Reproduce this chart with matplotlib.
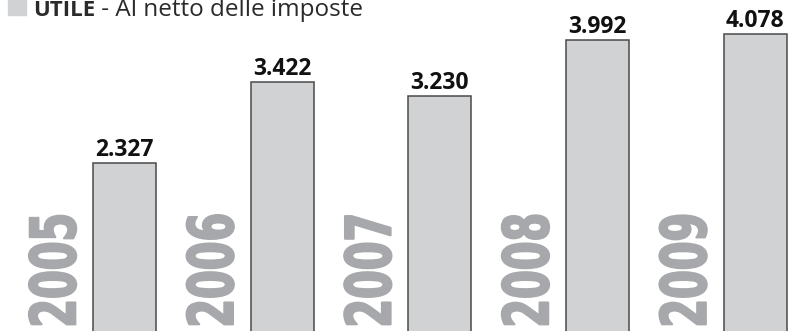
import matplotlib.pyplot as plt
from matplotlib.patches import Rectangle
from matplotlib.patheffects import AbstractPathEffect
from matplotlib.transforms import Affine2D

# utile netto per anno (milioni)
anni = ['2005', '2006', '2007', '2008', '2009']
utile = [2.327, 3.422, 3.230, 3.992, 4.078]
etichette = ['2.327', '3.422', '3.230', '3.992', '4.078']

colore_barra = '#d1d2d4'
colore_bordo = '#4a4a4a'
colore_anno = '#a7a8ab'


class Condensato(AbstractPathEffect):
    """Stringe i glifi lungo la riga del testo e li ispessisce un poco."""

    def __init__(self, sx, lw=0.0):
        super().__init__()
        self.sx = sx
        self.lw = lw

    def draw_path(self, renderer, gc, tpath, affine, rgbFace=None):
        gc0 = renderer.new_gc()
        gc0.copy_properties(gc)
        gc0.set_linewidth(self.lw)
        if rgbFace is not None:
            gc0.set_foreground(rgbFace)
        renderer.draw_path(gc0, tpath, Affine2D().scale(self.sx, 1) + affine,
                           rgbFace)
        gc0.restore()


fig = plt.figure(figsize=(8.08, 3.31), dpi=100)
ax = fig.add_axes([0, 0, 1, 1])

x = list(range(len(anni)))
ax.bar(x, utile, width=0.40, color=colore_barra, edgecolor=colore_bordo,
       linewidth=1.1)

for i, (v, lab) in enumerate(zip(utile, etichette)):
    ax.annotate(lab, xy=(i, v), xytext=(0, 5), textcoords='offset points',
                ha='center', va='baseline', fontsize=16.5, fontweight='bold',
                family='Open Sans', color='#111111')

# anni in verticale a sinistra di ogni barra
for i, anno in enumerate(anni):
    ax.text(i - 0.42, 0.087, anno, rotation=90, ha='center', va='bottom',
            fontsize=45, fontweight='bold', family='DejaVu Sans',
            color=colore_anno, path_effects=[Condensato(0.66, 1.5)])

ax.set_xlim(-0.79, 4.336)
ax.set_ylim(0.041, 4.539)
ax.axis('off')

# legenda in alto a sinistra
fig.patches.append(Rectangle((8 / 808, 1 - 15 / 331), 18 / 808, 20 / 331,
                             transform=fig.transFigure, color=colore_barra))
base = 1 - 16 / 331
t1 = fig.text(33 / 808, base, 'UTILE', fontsize=16, fontweight='bold',
              family='Open Sans', color='#2a2a2a', va='baseline')
fig.canvas.draw()
x1 = t1.get_window_extent().x1 / fig.bbox.width
fig.text(x1, base, ' - Al netto delle imposte', fontsize=17.5,
         family='Open Sans', color='#2a2a2a', va='baseline')

fig.savefig('out.png', dpi=100)
